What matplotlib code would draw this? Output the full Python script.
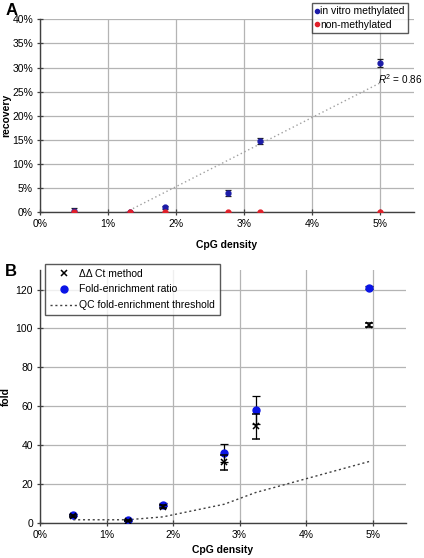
import numpy as np
import matplotlib
matplotlib.use("Agg")
import matplotlib.pyplot as plt
from matplotlib.ticker import FuncFormatter
from matplotlib.lines import Line2D

plt.rcParams["font.family"] = ["Liberation Sans", "DejaVu Sans"]
plt.rcParams["mathtext.fontset"] = "custom"
plt.rcParams["mathtext.it"] = "Liberation Sans:italic"
plt.rcParams["mathtext.rm"] = "Liberation Sans"

# panel A: recovery vs CpG density (values in %)
cpg_a = [0.5, 1.32, 1.84, 2.77, 3.24, 5.0]
meth_rec = [0.3, 0.0, 1.0, 4.0, 14.8, 30.9]
meth_err = [0.5, 0.0, 0.3, 0.6, 0.6, 0.8]
nonmeth_rec = [0.0, 0.0, 0.0, 0.0, 0.0, 0.0]

# panel B: fold enrichment vs CpG density
cpg_b = [0.5, 1.32, 1.85, 2.77, 3.24, 4.95]
ddct_fold = [3.5, 1.0, 8.3, 31.0, 49.5, 101.7]
ddct_err = [0.5, 0.3, 0.8, 4.0, 6.2, 1.0]
fer_fold = [3.8, 1.2, 9.3, 35.8, 58.0, 121.0]
fer_err = [0.5, 0.3, 0.8, 4.7, 7.2, 0.8]
qc_thresh = [1.5, 1.5, 3.0, 9.5, 15.5, 31.5]

pct = FuncFormatter(lambda v, p: f"{v:.0f}%")
grid_c = "#b4b4b4"
blue_a = "#1c1ca8"
red_a = "#e0202a"
blue_b = "#0a14e6"
fs = 7.5

fig = plt.figure(figsize=(4.24, 5.58), dpi=100)

# ---- A
ax1 = fig.add_axes([0.0943, 0.6195, 0.882, 0.3459])
ax1.errorbar(cpg_a, meth_rec, yerr=meth_err, fmt="o", color=blue_a, ms=3.5,
             ecolor="#202020", elinewidth=0.9, capsize=2, capthick=0.9, zorder=3)
ax1.plot(cpg_a, nonmeth_rec, "o", color=red_a, ms=3.5, zorder=4)
slope, icpt = np.polyfit(cpg_a, meth_rec, 1)
x0 = -icpt / slope
xs = np.array([x0, cpg_a[-1]])
ax1.plot(xs, slope * xs + icpt, ls=(0, (1, 2)), color="#a0a0a0", lw=1.0, zorder=2)
fig.text(0.997, 0.8575, "$R^2$ = 0.86", fontsize=7.2, ha="right", va="center")
ax1.set_xlim(0, 5.5)
ax1.set_ylim(0, 40)
ax1.set_xticks(range(0, 6))
ax1.set_yticks(range(0, 41, 5))
ax1.xaxis.set_major_formatter(pct)
ax1.yaxis.set_major_formatter(pct)
ax1.set_xlabel("CpG density", fontsize=fs, fontweight="bold", labelpad=8)
ax1.set_ylabel("recovery", fontsize=fs, fontweight="bold")
ax1.yaxis.set_label_coords(-0.078, 0.5)
hA = [Line2D([], [], ls="", marker="o", ms=3, color=blue_a),
      Line2D([], [], ls="", marker="o", ms=3, color=red_a)]
leg1 = ax1.legend(hA, ["in vitro methylated", "non-methylated"],
                  loc="upper right", bbox_to_anchor=(0.984, 1.084), fontsize=fs,
                  frameon=True, fancybox=False, edgecolor="#303030",
                  handlelength=0.4, handletextpad=0.1, borderpad=0.3,
                  borderaxespad=0, labelspacing=0.35)
leg1.get_frame().set_linewidth(1.0)
fig.text(0.012, 0.994, "A", fontsize=12, fontweight="bold", va="top")

# ---- B
ax2 = fig.add_axes([0.0943, 0.0633, 0.863, 0.4527])
ax2.plot(cpg_b, qc_thresh, ls=(0, (1.5, 2)), color="#404040", lw=1.0, zorder=2)
ax2.errorbar(cpg_b, fer_fold, yerr=fer_err, fmt="o", color=blue_b, ms=5,
             ecolor="black", elinewidth=0.9, capsize=3, capthick=0.9, zorder=3)
ax2.errorbar(cpg_b, ddct_fold, yerr=ddct_err, fmt="x", color="black", ms=5,
             mew=1.1, ecolor="black", elinewidth=0.9, capsize=3, capthick=0.9,
             zorder=4)
ax2.set_xlim(0, 5.5)
ax2.set_ylim(0, 130)
ax2.set_xticks(range(0, 6))
ax2.set_yticks(range(0, 121, 20))
ax2.xaxis.set_major_formatter(pct)
ax2.set_xlabel("CpG density", fontsize=fs, fontweight="bold", labelpad=4)
ax2.set_ylabel("fold", fontsize=fs, fontweight="bold")
ax2.yaxis.set_label_coords(-0.080, 0.5)
hB = [Line2D([], [], ls="", marker="x", ms=5, mew=1.1, color="black"),
      Line2D([], [], ls="", marker="o", ms=5, color=blue_b),
      Line2D([], [], ls=(0, (1.5, 2)), lw=1.0, color="#404040")]
leg2 = ax2.legend(hB, ["ΔΔ Ct method", "Fold-enrichment ratio",
                       "QC fold-enrichment threshold"],
                  loc="upper left", bbox_to_anchor=(0.014, 1.024), fontsize=fs,
                  frameon=True, fancybox=False, edgecolor="#303030",
                  handlelength=2.7, handletextpad=0.15, borderpad=0.45,
                  borderaxespad=0, labelspacing=0.55)
leg2.get_frame().set_linewidth(1.0)
fig.text(0.012, 0.527, "B", fontsize=12, fontweight="bold", va="top")

for ax in (ax1, ax2):
    ax.grid(True, color=grid_c, lw=0.9)
    ax.set_axisbelow(True)
    for s in ("top", "right"):
        ax.spines[s].set_visible(False)
    for s in ("left", "bottom"):
        ax.spines[s].set_color("#404040")
        ax.spines[s].set_linewidth(1.0)
    ax.tick_params(labelsize=fs, direction="inout", length=4, width=0.9,
                   color="#404040", pad=3)

fig.savefig("out.png", dpi=100)
